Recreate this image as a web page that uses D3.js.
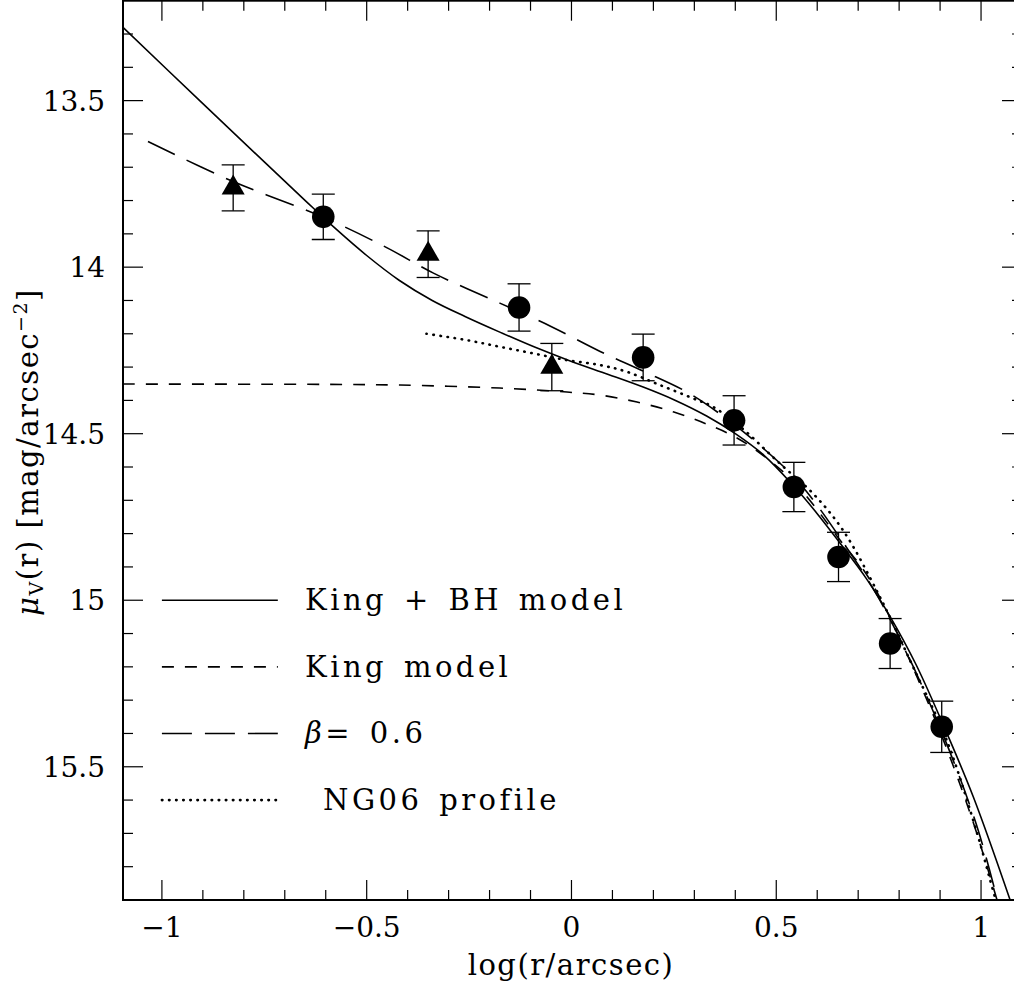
<!DOCTYPE html>
<html>
<head>
<meta charset="utf-8">
<script src="https://cdn.jsdelivr.net/npm/d3@7"></script>
<style>
  body { margin: 0; background: #fff; }
  text { font-family: "DejaVu Serif", serif; fill: #000; }
</style>
</head>
<body>
<svg width="1014" height="990"></svg>
<script>
// Tick values
const xMajorTicks = [-1, -0.5, 0, 0.5, 1]
const yMajorTicks = [13.5, 14, 14.5, 15, 15.5]

// Triangles (with error bars)
const triX = [-0.826, -0.35, -0.048]
const triY = [13.762, 13.961, 14.300]
const triErr = [0.069, 0.070, 0.071]

// Filled circles (with error bars)
const circX = [-0.606, -0.128, 0.175, 0.397, 0.543, 0.652, 0.778, 0.904]
const circY = [13.849, 14.121, 14.271, 14.460, 14.660, 14.870, 15.130, 15.380]
const circErr = [0.068, 0.071, 0.070, 0.074, 0.074, 0.074, 0.075, 0.077]

// King + BH model (solid)
const kingBhX = [-1.095, -0.9, -0.75, -0.65, -0.58, -0.5, -0.42, -0.34, -0.26, -0.175, -0.09, 0, 0.09, 0.175, 0.25, 0.33, 0.4, 0.47, 0.541, 0.6, 0.656, 0.72, 0.778, 0.84, 0.908, 0.981, 1.071]
const kingBhY = [13.28, 13.509, 13.684, 13.80, 13.88, 13.965, 14.04, 14.10, 14.148, 14.195, 14.24, 14.283, 14.322, 14.36, 14.398, 14.447, 14.50, 14.565, 14.655, 14.74, 14.829, 14.935, 15.049, 15.19, 15.375, 15.59, 15.90]

// King model (short dashes)
const kingX = [-1.095, -0.6, -0.419, -0.175, -0.011, 0.07, 0.16, 0.25, 0.33, 0.40, 0.47, 0.55, 0.656, 0.729, 0.875, 0.973, 1.039]
const kingY = [14.351, 14.352, 14.354, 14.363, 14.375, 14.384, 14.405, 14.435, 14.471, 14.51, 14.567, 14.654, 14.82, 14.939, 15.32, 15.638, 15.9]

// beta = 0.6 (long dashes)
const betaX = [-1.034, -0.826, -0.606, -0.45, -0.337, -0.175, -0.05, 0.07, 0.175, 0.282, 0.362, 0.46, 0.558, 0.668, 0.753, 0.875, 0.985, 1.04]
const betaY = [13.623, 13.743, 13.850, 13.942, 14.018, 14.108, 14.178, 14.253, 14.312, 14.375, 14.44, 14.535, 14.65, 14.835, 15.0, 15.31, 15.66, 15.9]

// NG06 profile (dotted)
const ngX = [-0.354, -0.256, -0.175, -0.093, -0.012, 0.07, 0.135, 0.216, 0.297, 0.345, 0.413, 0.509, 0.59, 0.663, 0.753, 0.834, 0.916, 0.99, 1.022, 1.036]
const ngY = [14.200, 14.219, 14.239, 14.259, 14.279, 14.294, 14.314, 14.354, 14.394, 14.419, 14.48, 14.59, 14.68, 14.79, 14.99, 15.2, 15.42, 15.698, 15.839, 15.9]

// Legend entries
const legendLabels = ['King + BH model', 'King model', 'β= 0.6', 'NG06 profile']
const legendY = [15.0, 15.2, 15.4, 15.6]
const legendDash = ['none', '12,11', '30,13', '0.5,6.6']

const svg = d3.select('svg')

const x = d3.scaleLinear().domain([-1.095, 1.1]).range([123, 1022])
const y = d3.scaleLinear().domain([13.2, 15.9]).range([0.7, 900])

const x0 = x.range()[0], x1 = x.range()[1]
const y0 = y.range()[0], y1 = y.range()[1]

// minor ticks every 0.1
const xMinor = d3.range(-10, 11).map(d => d / 10)
const yMinor = d3.range(133, 159).map(d => d / 10)

svg.append('defs').append('clipPath').attr('id', 'clip')
  .append('rect')
    .attr('x', x0).attr('y', y0)
    .attr('width', x1 - x0).attr('height', y1 - y0)

const axes = svg.append('g')
  .attr('stroke', '#000')

// frame
axes.append('rect')
  .attr('x', x0).attr('y', y0)
  .attr('width', x1 - x0).attr('height', y1 - y0)
  .attr('fill', 'none')
  .attr('stroke-width', 2)

const isMajor = (v, list) => list.some(m => Math.abs(m - v) < 1e-6)

// ticks on bottom and top
xMinor.forEach(v => {
  const len = isMajor(v, xMajorTicks) ? 20 : 10
  axes.append('line')
    .attr('x1', x(v)).attr('x2', x(v))
    .attr('y1', y1).attr('y2', y1 - len)
    .attr('stroke-width', 1.2)
  axes.append('line')
    .attr('x1', x(v)).attr('x2', x(v))
    .attr('y1', y0).attr('y2', y0 + len)
    .attr('stroke-width', 1.2)
})

// ticks on left and right
yMinor.forEach(v => {
  const len = isMajor(v, yMajorTicks) ? 20 : 10
  axes.append('line')
    .attr('x1', x0).attr('x2', x0 + len)
    .attr('y1', y(v)).attr('y2', y(v))
    .attr('stroke-width', 1.2)
  axes.append('line')
    .attr('x1', x1).attr('x2', x1 - len)
    .attr('y1', y(v)).attr('y2', y(v))
    .attr('stroke-width', 1.2)
})

// tick labels
const fmt = d3.format('')
svg.append('g')
  .selectAll('text')
  .data(xMajorTicks)
  .join('text')
    .attr('x', d => x(d))
    .attr('y', 937)
    .attr('text-anchor', 'middle')
    .attr('font-size', 28)
    .text(d => fmt(d))

svg.append('g')
  .selectAll('text')
  .data(yMajorTicks)
  .join('text')
    .attr('x', 105)
    .attr('y', d => y(d) + 10)
    .attr('text-anchor', 'end')
    .attr('font-size', 28)
    .text(d => fmt(d))

// axis titles
svg.append('text')
  .attr('x', 571)
  .attr('y', 975)
  .attr('text-anchor', 'middle')
  .attr('font-size', 29)
  .attr('letter-spacing', 1.5)
  .text('log(r/arcsec)')

const yLabel = svg.append('text')
  .attr('transform', 'translate(38, 452) rotate(-90)')
  .attr('text-anchor', 'middle')
  .attr('font-size', 29)
  .attr('letter-spacing', 1.5)
yLabel.append('tspan').attr('font-style', 'italic').text('μ')
yLabel.append('tspan').attr('font-size', 19).attr('dy', 5).text('V')
yLabel.append('tspan').attr('dy', -5).text('(r) [mag/arcsec')
yLabel.append('tspan').attr('font-size', 19).attr('dy', -11).text('−2')
yLabel.append('tspan').attr('dy', 11).text(']')

// curves
const plot = svg.append('g').attr('clip-path', 'url(#clip)')

const line = d3.line()
  .x(d => x(d[0]))
  .y(d => y(d[1]))
  .curve(d3.curveCatmullRom.alpha(0.5))

const curves = [
  { xs: kingBhX, ys: kingBhY, i: 0 },
  { xs: kingX, ys: kingY, i: 1 },
  { xs: betaX, ys: betaY, i: 2 },
  { xs: ngX, ys: ngY, i: 3 }
]

curves.forEach(c => {
  plot.append('path')
    .attr('d', line(d3.zip(c.xs, c.ys)))
    .attr('fill', 'none')
    .attr('stroke', '#000')
    .attr('stroke-width', c.i === 3 ? 2.6 : 1.6)
    .attr('stroke-linecap', c.i === 3 ? 'round' : 'butt')
    .attr('stroke-dasharray', legendDash[c.i])
})

// error bars
const errG = plot.append('g').attr('stroke', '#000').attr('stroke-width', 1.3)
const drawErr = (xs, ys, es) => {
  xs.forEach((xv, i) => {
    const cx = x(xv)
    errG.append('line')
      .attr('x1', cx).attr('x2', cx)
      .attr('y1', y(ys[i] - es[i])).attr('y2', y(ys[i] + es[i]))
    ;[ys[i] - es[i], ys[i] + es[i]].forEach(v => {
      errG.append('line')
        .attr('x1', cx - 11.5).attr('x2', cx + 11.5)
        .attr('y1', y(v)).attr('y2', y(v))
    })
  })
}
drawErr(circX, circY, circErr)
drawErr(triX, triY, triErr)

// circles
plot.append('g')
  .selectAll('circle')
  .data(d3.zip(circX, circY))
  .join('circle')
    .attr('cx', d => x(d[0]))
    .attr('cy', d => y(d[1]))
    .attr('r', 11.3)
    .attr('fill', '#000')

// triangles
plot.append('g')
  .selectAll('path')
  .data(d3.zip(triX, triY))
  .join('path')
    .attr('transform', d => `translate(${x(d[0])}, ${y(d[1])})`)
    .attr('d', d3.symbol(d3.symbolTriangle, 230))
    .attr('fill', '#000')

// legend
const legend = svg.append('g')
legendLabels.forEach((lab, i) => {
  const ly = y(legendY[i])
  legend.append('line')
    .attr('x1', x(-1.0)).attr('x2', x(-0.717))
    .attr('y1', ly).attr('y2', ly)
    .attr('stroke', '#000')
    .attr('stroke-width', i === 3 ? 2.6 : 1.6)
    .attr('stroke-linecap', i === 3 ? 'round' : 'butt')
    .attr('stroke-dasharray', legendDash[i])
  const t = legend.append('text')
    .attr('x', i === 3 ? 323 : 305)
    .attr('y', ly + 10)
    .attr('font-size', 29)
    .attr('letter-spacing', 3.5)
    .attr('word-spacing', 4)
  if (lab.startsWith('β')) {
    t.append('tspan').attr('font-style', 'italic').text('β')
    t.append('tspan').text(lab.slice(1))
  } else {
    t.text(lab)
  }
})
</script>
</body>
</html>
